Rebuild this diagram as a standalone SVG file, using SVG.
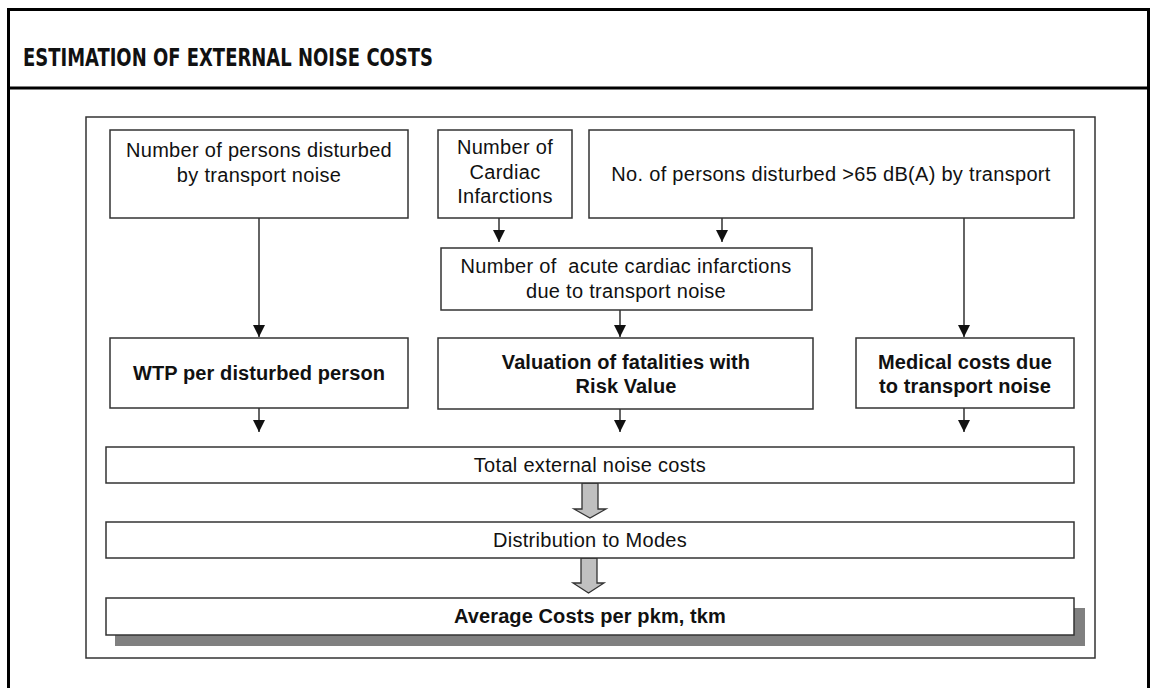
<svg xmlns="http://www.w3.org/2000/svg" width="1151" height="688" viewBox="0 0 1151 688">
<defs>
<style>
.t{font-family:"Liberation Sans",Arial,Helvetica,sans-serif;font-size:20px;fill:#111;text-anchor:middle;letter-spacing:0.3px}
.b{font-weight:bold;letter-spacing:0.1px}
.box{fill:#fff;stroke:#333;stroke-width:1.5}
.ln{stroke:#111;stroke-width:1.3;fill:none}
.big{fill:#c0c0c0;stroke:#333;stroke-width:1.3}
</style>
<marker id="ah" viewBox="0 0 12 12" refX="12" refY="6" markerWidth="12" markerHeight="12" markerUnits="userSpaceOnUse" orient="auto">
<path d="M0,0 L12,6 L0,12 z" fill="#111"/>
</marker>
</defs>
<rect x="0" y="0" width="1151" height="688" fill="#fff"/>
<g id="frame">
<path d="M8.5,700 V9.5 H1148.5 V700" fill="none" stroke="#000" stroke-width="3"/>
<line x1="8" y1="88" x2="1148" y2="88" stroke="#000" stroke-width="3"/>
<text x="23" y="66" font-family="'DejaVu Sans Condensed','DejaVu Sans',sans-serif" font-weight="bold" font-size="24" fill="#111" textLength="410" lengthAdjust="spacingAndGlyphs">ESTIMATION OF EXTERNAL NOISE COSTS</text>
<rect x="86" y="117" width="1009" height="541" fill="#fff" stroke="#333" stroke-width="1.5"/>
</g>
<g id="connectors">
<line class="ln" x1="259" y1="218" x2="259" y2="337" marker-end="url(#ah)"/>
<line class="ln" x1="499" y1="218" x2="499" y2="242" marker-end="url(#ah)"/>
<line class="ln" x1="722" y1="218" x2="722" y2="242" marker-end="url(#ah)"/>
<line class="ln" x1="964" y1="218" x2="964" y2="337" marker-end="url(#ah)"/>
<line class="ln" x1="620" y1="310" x2="620" y2="337" marker-end="url(#ah)"/>
<line class="ln" x1="259" y1="408" x2="259" y2="432" marker-end="url(#ah)"/>
<line class="ln" x1="620" y1="409" x2="620" y2="432" marker-end="url(#ah)"/>
<line class="ln" x1="964" y1="408" x2="964" y2="432" marker-end="url(#ah)"/>
<path class="big" d="M582,483 V509 H574 L590,518 L606,509 H598 V483 Z"/>
<path class="big" d="M581,558 V583 H573 L588.5,593 L604,583 H597 V558 Z"/>
</g>
<g id="n1"><rect class="box" x="110" y="130" width="298" height="88"/>
<text class="t" x="259" y="157">Number of persons disturbed<tspan x="259" dy="25">by transport noise</tspan></text></g>
<g id="n2"><rect class="box" x="438" y="130" width="134" height="88"/>
<text class="t" x="505" y="154">Number of<tspan x="505" dy="24.5">Cardiac</tspan><tspan x="505" dy="24.5">Infarctions</tspan></text></g>
<g id="n3"><rect class="box" x="589" y="130" width="485" height="88"/>
<text class="t" x="831" y="181">No. of persons disturbed &gt;65 dB(A) by transport</text></g>
<g id="n4"><rect class="box" x="441" y="248" width="371" height="62"/>
<text class="t" x="626" y="273" xml:space="preserve">Number of  acute cardiac infarctions<tspan x="626" dy="25">due to transport noise</tspan></text></g>
<g id="n5"><rect class="box" x="110" y="338" width="298" height="70"/>
<text class="t b" x="259" y="380">WTP per disturbed person</text></g>
<g id="n6"><rect class="box" x="438" y="338" width="375" height="71"/>
<text class="t b" x="626" y="369">Valuation of fatalities with<tspan x="626" dy="24">Risk Value</tspan></text></g>
<g id="n7"><rect class="box" x="856" y="338" width="218" height="70"/>
<text class="t b" x="965" y="369">Medical costs due<tspan x="965" dy="24">to transport noise</tspan></text></g>
<g id="n8"><rect class="box" x="106" y="447" width="968" height="36"/>
<text class="t" x="590" y="472">Total external noise costs</text></g>
<g id="n9"><rect class="box" x="106" y="522" width="968" height="36"/>
<text class="t" x="590" y="547">Distribution to Modes</text></g>
<g id="n10"><rect x="115" y="608" width="970" height="38" fill="#808080"/>
<rect class="box" x="106" y="598" width="968" height="37"/>
<text class="t b" x="590" y="623">Average Costs per pkm, tkm</text></g>
</svg>
